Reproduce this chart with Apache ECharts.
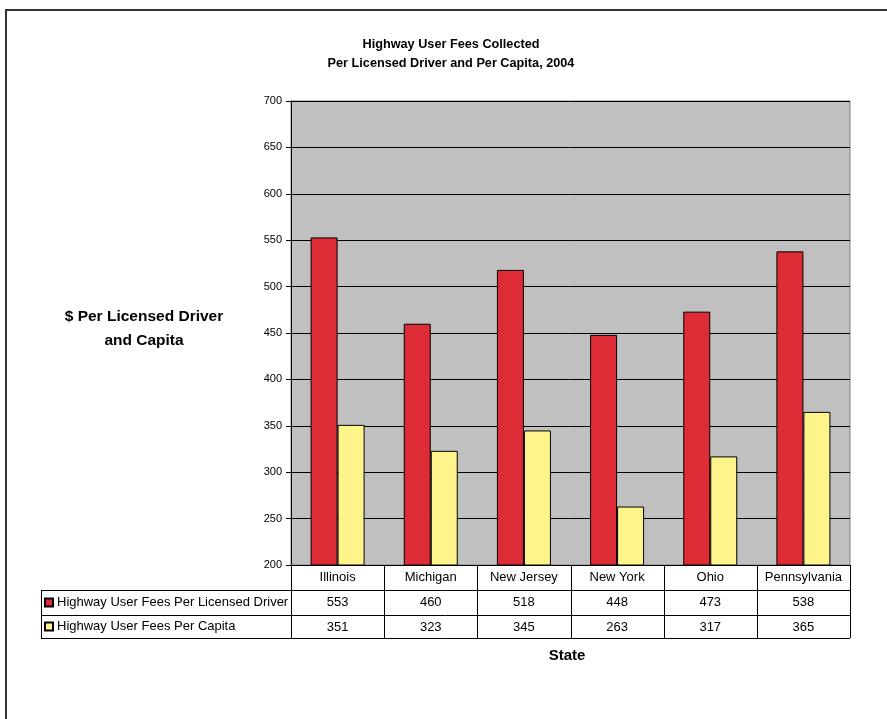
<!DOCTYPE html>
<html>
<head>
<meta charset="utf-8">
<title>Highway User Fees Collected</title>
<script src="https://cdn.jsdelivr.net/npm/echarts@6/dist/echarts.min.js"></script>
<style>
  html, body { margin: 0; padding: 0; background: #ffffff; }
  #chart { width: 887px; height: 719px; }
</style>
</head>
<body>
<div id="chart"></div>
<script>
// Categories and series values
const states = ['Illinois', 'Michigan', 'New Jersey', 'New York', 'Ohio', 'Pennsylvania'];
const perDriver = [553, 460, 518, 448, 473, 538];
const perCapita = [351, 323, 345, 263, 317, 365];
const seriesNames = ['Highway User Fees Per Licensed Driver', 'Highway User Fees Per Capita'];
const yTicks = { min: 200, max: 700, step: 50 };

const FONT = "'Liberation Sans', Arial, Helvetica, sans-serif";

// Plot frame (pixels)
const G = { left: 291, top: 101, width: 559, height: 464 };
const rowH = [25, 25, 23];      // category row, then one row per series
const legendLeft = 41;

const chart = echarts.init(document.getElementById('chart'), null, { renderer: 'canvas' });

// Data table grid lines drawn beneath the plot
function tableLines() {
  const els = [];
  const bottom = G.top + G.height;
  const r1 = bottom + rowH[0];
  const r2 = r1 + rowH[1];
  const r3 = r2 + rowH[2];
  const right = G.left + G.width;
  [r1, r2, r3].forEach(y => {
    els.push({ type: 'line', shape: { x1: legendLeft, y1: y + 0.5, x2: right, y2: y + 0.5 },
      style: { stroke: '#000', lineWidth: 1 }, z: 10 });
  });
  els.push({ type: 'line', shape: { x1: legendLeft + 0.5, y1: r1, x2: legendLeft + 0.5, y2: r3 },
    style: { stroke: '#000', lineWidth: 1 }, z: 10 });
  const colW = G.width / states.length;
  for (let i = 0; i <= states.length; i++) {
    const x = Math.round(G.left + i * colW) + 0.5;
    els.push({ type: 'line', shape: { x1: x, y1: bottom, x2: x, y2: r3 },
      style: { stroke: '#000', lineWidth: 1 }, z: 10 });
  }
  return els;
}

const option = {
  animation: false,
  backgroundColor: '#ffffff',
  textStyle: { fontFamily: FONT, color: '#000' },
  title: {
    text: 'Highway User Fees Collected\nPer Licensed Driver and Per Capita, 2004',
    left: 451,
    top: 35,
    textAlign: 'center',
    padding: 0,
    textStyle: { fontFamily: FONT, fontSize: 12.7, fontWeight: 'bold', color: '#000', lineHeight: 19 }
  },
  legend: {
    orient: 'vertical',
    left: 44,
    top: 595,
    padding: 0,
    itemWidth: 8,
    itemHeight: 8,
    itemGap: 9,
    icon: 'rect',
    selectedMode: false,
    textStyle: { fontFamily: FONT, fontSize: 13, color: '#000', lineHeight: 15, padding: [0, 0, 0, -1] },
    data: seriesNames
  },
  grid: {
    left: G.left, top: G.top, width: G.width, height: G.height,
    show: true,
    backgroundColor: '#C0C0C0',
    borderColor: '#808080',
    borderWidth: 1,
    containLabel: false
  },
  xAxis: {
    type: 'category',
    data: states,
    axisLine: { show: true, lineStyle: { color: '#000', width: 1 } },
    axisTick: { show: false },
    splitLine: { show: false },
    axisLabel: {
      margin: 0,
      interval: 0,
      fontFamily: FONT,
      fontSize: 13,
      color: '#000',
      lineHeight: 25,
      verticalAlign: 'top',
      formatter: (value, idx) => value + '\n' + perDriver[idx] + '\n' + perCapita[idx]
    }
  },
  yAxis: {
    type: 'value',
    min: yTicks.min,
    max: yTicks.max,
    interval: yTicks.step,
    axisLine: { show: true, lineStyle: { color: '#000', width: 1 } },
    axisTick: { show: true, length: 5, lineStyle: { color: '#000' } },
    splitLine: { show: true, lineStyle: { color: '#000', width: 1 } },
    axisLabel: { margin: 9, fontFamily: FONT, fontSize: 11, color: '#000' }
  },
  series: [
    {
      name: seriesNames[0],
      type: 'bar',
      data: perDriver,
      barWidth: 27,
      barGap: '0%',
      itemStyle: { color: '#DD2C35', borderColor: '#000', borderWidth: 1 }
    },
    {
      name: seriesNames[1],
      type: 'bar',
      data: perCapita,
      barWidth: 27,
      barGap: '0%',
      itemStyle: { color: '#FFF48C', borderColor: '#000', borderWidth: 1 }
    }
  ],
  graphic: [
    // outer chart frame
    { type: 'polyline', shape: { points: [[6, 719], [6, 10], [887, 10]] },
      style: { stroke: '#333', lineWidth: 2, fill: null }, z: 20 },
    // value axis title
    { type: 'text', x: 144, y: 305,
      style: { text: '$ Per Licensed Driver\nand Capita', font: 'bold 15.5px ' + FONT,
        fill: '#000', align: 'center', lineHeight: 24 } },
    // category axis title
    { type: 'text', x: 567, y: 656,
      style: { text: 'State', font: 'bold 15px ' + FONT, fill: '#000',
        align: 'center', verticalAlign: 'middle' } },
    ...tableLines()
  ]
};

chart.setOption(option);
</script>
</body>
</html>
